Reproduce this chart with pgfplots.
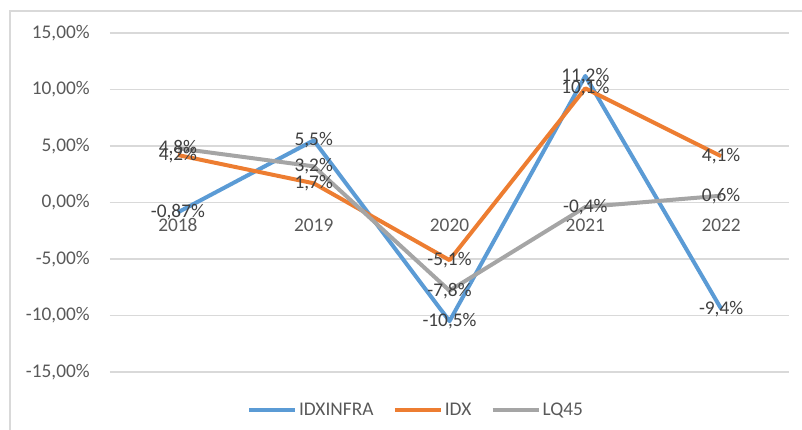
\documentclass[border=0pt]{standalone}
\usepackage{pgfplots}
\pgfplotsset{compat=1.18}
\usepackage{pgfplotstable}
\usepackage{fontspec}
\setmainfont{Carlito}
\definecolor{cblue}{HTML}{5B9BD5}
\definecolor{corange}{HTML}{ED7D31}
\definecolor{cgray}{HTML}{A5A5A5}
\definecolor{ctext}{HTML}{595959}
\definecolor{clab}{HTML}{404040}
\definecolor{cgrid}{HTML}{D9D9D9}
\newcommand{\lblfont}{\fontsize{14.5}{17}\selectfont}
\pgfplotstableread{
x y lab
0 -0.87 -0,87
1 5.5 5,5
2 -10.5 -10,5
3 11.2 11,2
4 -9.4 -9,4
}\infra
\pgfplotstableread{
x y lab
0 4.2 4,2
1 1.7 1,7
2 -5.1 -5,1
3 10.1 10,1
4 4.1 4,1
}\idx
\pgfplotstableread{
x y lab
0 4.8 4,8
1 3.2 3,2
2 -7.8 -7,8
3 -0.4 -0,4
4 0.6 0,6
}\lq
\begin{document}
\begin{tikzpicture}
\path[use as bounding box] (-82.5pt,-42.75pt) rectangle (519pt,279pt);
\draw[cgrid, line width=1.1pt] (-75pt,-60pt) -- (-75pt,270.75pt) -- (540pt,270.75pt);
\begin{axis}[
  at={(0,0)}, anchor=south west,
  scale only axis, width=509.25pt, height=254.25pt,
  xmin=-0.5, xmax=4.5, ymin=-15, ymax=15,
  clip=false,
  axis line style={draw=none},
  major tick length=0pt,
  xtick={0,1,2,3,4},
  xticklabels={2018,2019,2020,2021,2022},
  ytick={-15,-10,-5,0,5,10,15},
  yticklabels={{-15,00\%},{-10,00\%},{-5,00\%},{0,00\%},{5,00\%},{10,00\%},{15,00\%}},
  ymajorgrids, grid style={cgrid, line width=1pt},
  tick label style={font=\lblfont, text=ctext, inner sep=0pt},
  xticklabel style={anchor=center, yshift=110.25pt},
  yticklabel style={anchor=east, xshift=-15pt},
  every axis plot/.append style={line width=3pt, line join=round, no markers},
  point meta=explicit symbolic,
  nodes near coords={\pgfplotspointmeta\%},
  every node near coord/.append style={anchor=center, font=\lblfont, text=clab, inner sep=0pt},
  legend columns=3,
  legend style={at={(0.2018,-0.112)}, anchor=west, draw=none, fill=none,
    inner sep=0pt, outer sep=0pt, font=\lblfont, text=ctext,
    nodes={inner sep=1.5pt},
    /tikz/every even column/.append style={column sep=13pt}},
  legend image code/.code={\draw[#1, line width=3pt] (0pt,0pt) -- (34.5pt,0pt);},
]
\addplot[cblue] table[x=x, y=y, meta=lab] {\infra};
\addlegendentry{IDXINFRA}
\addplot[corange] table[x=x, y=y, meta=lab] {\idx};
\addlegendentry{IDX}
\addplot[cgray] table[x=x, y=y, meta=lab] {\lq};
\addlegendentry{LQ45}
\end{axis}
\end{tikzpicture}
\end{document}
